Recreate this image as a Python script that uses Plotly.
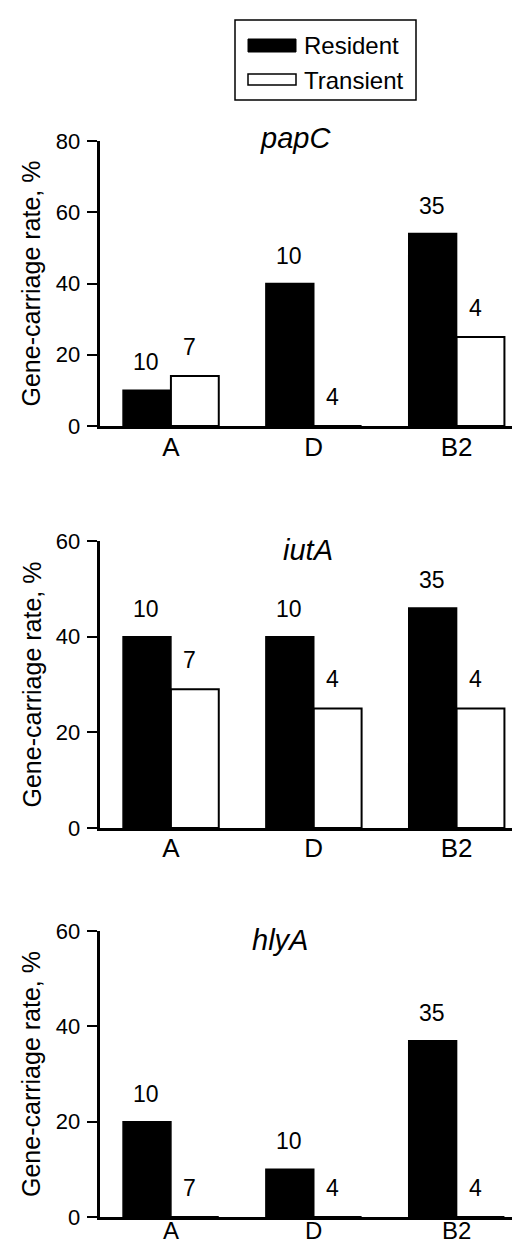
import plotly.graph_objects as go

W, H = 520, 1247

categories = ["A", "D", "B2"]
series_names = ["Resident", "Transient"]
genes = ["papC", "iutA", "hlyA"]

papC_resident = [10, 40, 54]
papC_transient = [14, 0, 25]
iutA_resident = [40, 40, 46]
iutA_transient = [29, 25, 25]
hlyA_resident = [20, 10, 37]
hlyA_transient = [0, 0, 0]

n_resident = [10, 10, 35]
n_transient = [7, 4, 4]

y_max = [80, 60, 60]
y_title = "Gene-carriage rate, %"

values = {
    "papC": (papC_resident, papC_transient),
    "iutA": (iutA_resident, iutA_transient),
    "hlyA": (hlyA_resident, hlyA_transient),
}

FONT = "Liberation Sans, Arial, sans-serif"

def px_x(px):
    return px / W

def px_y(py):
    return 1 - py / H

# panel pixel extents (top, bottom)
panels_px = [(133, 418), (533, 820), (923, 1209)]
title_px = [(287, 130), (300, 542), (272, 932)]
cat_standoff = [-4, -5, -10]
cat_size = [26, 26, 24]

fig = go.Figure()
annotations = []
shapes = []

for i, g in enumerate(genes):
    ax = "" if i == 0 else str(i + 1)
    xref = "x" + ax
    yref = "y" + ax
    res, tra = values[g]
    fig.add_trace(go.Bar(
        x=categories, y=res, name=series_names[0], xaxis=xref, yaxis=yref,
        marker=dict(color="black", line=dict(color="black", width=1.5)),
        showlegend=False, hoverinfo="x+y"))
    fig.add_trace(go.Bar(
        x=categories, y=tra, name=series_names[1], xaxis=xref, yaxis=yref,
        marker=dict(color="white", line=dict(color="black", width=2)),
        showlegend=False, hoverinfo="x+y"))
    top, bot = panels_px[i]
    dom_y = [px_y(bot), px_y(top)]
    fig.layout["xaxis" + ax] = dict(
        domain=[px_x(91.5), 1.0], anchor=yref, type="category",
        range=[-0.5, 2.5], showline=True, linecolor="black", linewidth=2.5,
        ticks="", showgrid=False, zeroline=False, automargin=False,
        tickfont=dict(family=FONT, size=cat_size[i], color="black"),
        ticklabelstandoff=cat_standoff[i])
    fig.layout["yaxis" + ax] = dict(
        domain=dom_y, anchor=xref, range=[0, y_max[i]], dtick=20,
        showline=True, linecolor="black", linewidth=2.5, ticks="outside",
        ticklen=10, tickwidth=2, tickcolor="black", showgrid=False,
        zeroline=False, automargin=False, ticklabelstandoff=2,
        tickfont=dict(family=FONT, size=22, color="black"))
    # value labels (sample sizes)
    for j, c in enumerate(categories):
        annotations.append(dict(x=c, y=res[j], xref=xref, yref=yref,
                                text=str(n_resident[j]), showarrow=False,
                                xshift=-25, yshift=28, yanchor="middle",
                                font=dict(family=FONT, size=23, color="black")))
        annotations.append(dict(x=c, y=tra[j], xref=xref, yref=yref,
                                text=str(n_transient[j]), showarrow=False,
                                xshift=19, yshift=29, yanchor="middle",
                                font=dict(family=FONT, size=23, color="black")))
    # panel title
    tx, ty = title_px[i]
    annotations.append(dict(x=px_x(tx), y=px_y(ty), xref="paper", yref="paper",
                            text="<i>" + g + "</i>", showarrow=False,
                            xanchor="center", yanchor="middle",
                            font=dict(family=FONT, size=29, color="black")))
    # y-axis title
    annotations.append(dict(x=px_x(23), y=px_y((top + bot) / 2), xref="paper", yref="paper",
                            text=y_title, showarrow=False, textangle=-90,
                            xanchor="center", yanchor="middle",
                            font=dict(family=FONT, size=25, color="black")))

# custom legend
shapes.append(dict(type="rect", xref="paper", yref="paper",
                   x0=px_x(227), x1=px_x(408), y0=px_y(92), y1=px_y(12),
                   line=dict(color="black", width=1.5), fillcolor="white"))
shapes.append(dict(type="rect", xref="paper", yref="paper",
                   x0=px_x(240), x1=px_x(288), y0=px_y(44), y1=px_y(31),
                   line=dict(color="black", width=1), fillcolor="black"))
shapes.append(dict(type="rect", xref="paper", yref="paper",
                   x0=px_x(240), x1=px_x(288), y0=px_y(77), y1=px_y(66),
                   line=dict(color="black", width=1.5), fillcolor="white"))
annotations.append(dict(x=px_x(294), y=px_y(37), xref="paper", yref="paper",
                        text=series_names[0], showarrow=False, xanchor="left",
                        yanchor="middle", font=dict(family=FONT, size=24, color="black")))
annotations.append(dict(x=px_x(294), y=px_y(72), xref="paper", yref="paper",
                        text=series_names[1], showarrow=False, xanchor="left",
                        yanchor="middle", font=dict(family=FONT, size=24, color="black")))

fig.update_layout(
    width=W, height=H, margin=dict(l=0, r=0, t=0, b=0),
    paper_bgcolor="white", plot_bgcolor="white",
    barmode="group", bargap=0.33, bargroupgap=0,
    annotations=annotations, shapes=shapes, showlegend=False,
    font=dict(family=FONT, color="black"),
)

fig.write_html("out.html")
